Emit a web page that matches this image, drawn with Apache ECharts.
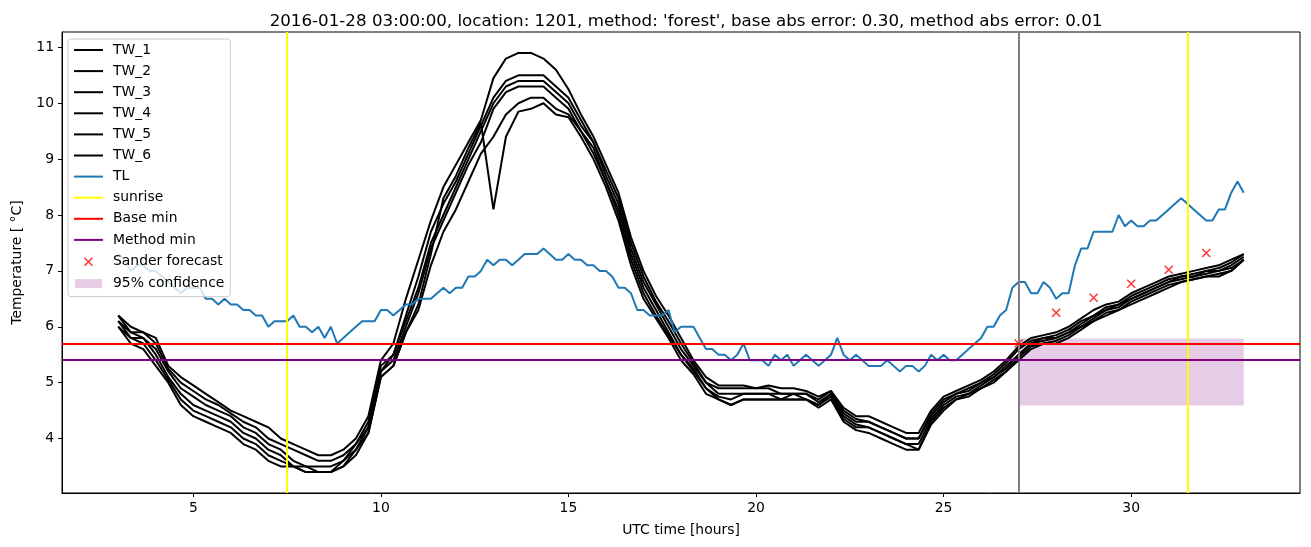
<!DOCTYPE html>
<html>
<head>
<meta charset="utf-8">
<script src="https://cdn.jsdelivr.net/npm/echarts@6/dist/echarts.min.js"></script>
<style>
html,
body,
#main {
  margin: 0;
  padding: 0;
  width: 1311px;
  height: 547px;
  background: #fff;
  overflow: hidden;
}
</style>
</head>
<body>
<div id="main"></div>
<script>
// readings every 20 minutes from 3h to 33h, one list per sensor
const twStart = 3;
const twStep = 1 / 3;
const tw1 = [6.2,6.0,5.9,5.8,5.3,5.1,4.95,4.8,4.65,4.5, 4.4,4.3,4.2,4.0,3.9,3.8,3.7,3.7,3.8,4.0,
  4.4,5.4,5.7,6.5,7.2,7.9,8.5,8.9,9.3,9.7, 10.45,10.8,10.9,10.9,10.8,10.6,10.25,9.8,9.4,8.9,
  8.4,7.6,7.0,6.55,6.2,5.8,5.4,5.1,4.95,4.95, 4.95,4.9,4.95,4.9,4.9,4.85,4.75,4.85,4.55,4.4,
  4.4,4.3,4.2,4.1,4.1,4.5,4.75,4.85,4.95,5.05, 5.2,5.4,5.65,5.8,5.85,5.9,6.0,6.15,6.3,6.4,
  6.45,6.6,6.7,6.8,6.9,6.95,7.0,7.05,7.1,7.2, 7.3];
const tw2 = [6.2,5.9,5.9,5.7,5.25,5.0,4.85,4.7,4.6,4.45, 4.3,4.2,4.0,3.9,3.8,3.7,3.6,3.6,3.7,3.9,
  4.3,5.3,5.5,6.2,6.9,7.7,8.2,8.6,9.1,9.6, 10.1,10.4,10.5,10.5,10.5,10.3,10.1,9.7,9.3,8.8,
  8.3,7.5,6.9,6.45,6.1,5.7,5.35,5.0,4.9,4.9, 4.9,4.9,4.9,4.8,4.8,4.8,4.7,4.85,4.5,4.35,
  4.3,4.2,4.1,4.0,4.0,4.45,4.7,4.8,4.9,5.0, 5.15,5.35,5.6,5.75,5.8,5.85,5.95,6.1,6.2,6.35,
  6.4,6.55,6.65,6.75,6.85,6.9,6.95,7.0,7.05,7.15, 7.3];
const tw3 = [6.1,5.9,5.8,5.6,5.2,4.9,4.75,4.6,4.5,4.4, 4.2,4.1,3.9,3.8,3.6,3.5,3.5,3.5,3.6,3.9,
  4.2,5.2,5.5,6.1,6.7,7.5,8.0,8.5,9.0,9.5, 10.0,10.3,10.4,10.4,10.4,10.2,10.0,9.6,9.3,8.7,
  8.2,7.4,6.8,6.4,6.0,5.6,5.3,5.0,4.8,4.8, 4.8,4.8,4.8,4.8,4.8,4.8,4.65,4.8,4.45,4.3,
  4.3,4.2,4.1,4.0,4.0,4.4,4.65,4.8,4.85,5.0, 5.1,5.3,5.5,5.7,5.8,5.8,5.9,6.05,6.2,6.3,
  6.4,6.5,6.6,6.7,6.8,6.9,6.9,7.0,7.0,7.1, 7.25];
const tw4 = [6.1,5.8,5.8,5.5,5.1,4.8,4.6,4.5,4.4,4.3, 4.1,4.0,3.8,3.7,3.5,3.5,3.4,3.4,3.6,3.8,
  4.2,5.2,5.4,6.0,6.6,7.4,7.9,8.4,8.9,9.3, 9.9,10.2,10.3,10.3,10.3,10.1,9.9,9.5,9.2,8.6,
  8.1,7.3,6.7,6.3,5.9,5.5,5.25,4.9,4.75,4.7, 4.8,4.8,4.8,4.7,4.8,4.7,4.6,4.8,4.4,4.25,
  4.2,4.1,4.0,3.9,3.9,4.35,4.6,4.75,4.8,4.95, 5.1,5.25,5.5,5.7,5.75,5.8,5.9,6.0,6.15,6.3,
  6.35,6.5,6.6,6.7,6.8,6.85,6.9,6.95,7.0,7.05, 7.2];
const tw5 = [6.0,5.8,5.7,5.4,5.05,4.7,4.5,4.4,4.3,4.2, 4.0,3.9,3.7,3.6,3.5,3.4,3.4,3.4,3.5,3.8,
  4.1,5.1,5.3,5.9,6.3,7.1,7.7,8.1,8.6,9.1, 9.4,9.8,10.0,10.1,10.1,9.9,9.8,9.5,9.1,8.6,
  8.0,7.2,6.6,6.2,5.85,5.5,5.2,4.9,4.7,4.6, 4.7,4.7,4.7,4.7,4.7,4.7,4.6,4.75,4.35,4.2,
  4.2,4.1,4.0,3.9,3.8,4.3,4.55,4.7,4.8,4.9, 5.05,5.2,5.45,5.65,5.7,5.75,5.85,6.0,6.1,6.25,
  6.3,6.45,6.55,6.65,6.75,6.8,6.85,6.9,6.95,7.0, 7.2];
const tw6 = [6.0,5.7,5.6,5.3,5.0,4.6,4.4,4.3,4.2,4.1, 3.9,3.8,3.6,3.5,3.5,3.4,3.4,3.4,3.5,3.7,
  4.1,5.1,5.3,5.9,6.4,7.3,8.3,8.7,9.2,9.65, 8.1,9.4,9.85,9.9,10.0,9.8,9.75,9.4,9.0,8.5,
  7.9,7.1,6.5,6.15,5.8,5.4,5.15,4.8,4.7,4.6, 4.7,4.7,4.7,4.7,4.7,4.7,4.55,4.7,4.3,4.15,
  4.1,4.0,3.9,3.8,3.8,4.25,4.5,4.7,4.75,4.9, 5.0,5.2,5.4,5.6,5.7,5.7,5.8,5.95,6.1,6.2,
  6.3,6.4,6.5,6.6,6.7,6.8,6.85,6.9,6.9,7.0, 7.2];

// air temperature every 10 minutes, one row per hour
const tlStart = 3;
const tlStep = 1 / 6;
const tl = [
  7.3, 7.2, 7.0, 7.1, 7.1, 7.0,
  7.0, 6.9, 6.8, 6.7, 6.6, 6.7,
  6.7, 6.7, 6.5, 6.5, 6.4, 6.5,
  6.4, 6.4, 6.3, 6.3, 6.2, 6.2,
  6.0, 6.1, 6.1, 6.1, 6.2, 6.0,
  6.0, 5.9, 6.0, 5.8, 6.0, 5.7,
  5.8, 5.9, 6.0, 6.1, 6.1, 6.1,
  6.3, 6.3, 6.2, 6.3, 6.4, 6.4,
  6.5, 6.5, 6.5, 6.6, 6.7, 6.6,
  6.7, 6.7, 6.9, 6.9, 7.0, 7.2,
  7.1, 7.2, 7.2, 7.1, 7.2, 7.3,
  7.3, 7.3, 7.4, 7.3, 7.2, 7.2,
  7.3, 7.2, 7.2, 7.1, 7.1, 7.0,
  7.0, 6.9, 6.7, 6.7, 6.6, 6.3,
  6.3, 6.2, 6.2, 6.2, 6.3, 5.9,
  6.0, 6.0, 6.0, 5.8, 5.6, 5.6,
  5.5, 5.5, 5.4, 5.5, 5.7, 5.4,
  5.4, 5.4, 5.3, 5.5, 5.4, 5.5,
  5.3, 5.4, 5.5, 5.4, 5.3, 5.4,
  5.5, 5.8, 5.5, 5.4, 5.5, 5.4,
  5.3, 5.3, 5.3, 5.4, 5.3, 5.2,
  5.3, 5.3, 5.2, 5.3, 5.5, 5.4,
  5.5, 5.4, 5.4, 5.5, 5.6, 5.7,
  5.8, 6.0, 6.0, 6.2, 6.3, 6.7,
  6.8, 6.8, 6.6, 6.6, 6.8, 6.7,
  6.5, 6.6, 6.6, 7.1, 7.4, 7.4,
  7.7, 7.7, 7.7, 7.7, 8.0, 7.8,
  7.9, 7.8, 7.8, 7.9, 7.9, 8.0,
  8.1, 8.2, 8.3, 8.2, 8.1, 8.0,
  7.9, 7.9, 8.1, 8.1, 8.4, 8.6,
  8.4
];

const sunriseHours = [7.5, 31.5];
const forecastStart = 27;
const baseMin = 5.70;
const methodMin = 5.41;
const sanderHours = [27, 28, 29, 30, 31, 32];
const sanderValues = [5.70, 6.25, 6.52, 6.77, 7.02, 7.32];
const confHours = [27, 33];
const confRange = [4.59, 5.79];

const xTicks = [5, 10, 15, 20, 25, 30];
const yTicks = [4, 5, 6, 7, 8, 9, 10, 11];
const xRange = [1.5, 34.5];
const yRange = [3.025, 11.275];

const FONT = "DejaVu Sans";
const LW = 2;

function pairs(start, step, vals) {
  return vals.map((v, i) => [start + i * step, v]);
}

const twNames = ["TW_1", "TW_2", "TW_3", "TW_4", "TW_5", "TW_6"];
const twData = [tw1, tw2, tw3, tw4, tw5, tw6];

function refLine(name, color, data, width) {
  return {
    name: name,
    type: "line",
    data: [],
    symbol: "none",
    color: color,
    lineStyle: { color: color, width: width },
    silent: true,
    markLine: {
      silent: true,
      symbol: ["none", "none"],
      label: { show: false },
      emphasis: { disabled: true },
      lineStyle: { color: color, width: width, type: "solid" },
      data: data,
    },
  };
}

// legend entry drawn by the line series itself, with its marker hidden
function lineEntry(name) {
  return { name: name, itemStyle: { opacity: 0 } };
}

let _series = [];
_series.push(refLine("forecast start", "#808080", [{ xAxis: forecastStart }], LW));
twData.forEach((vals, k) => {
  _series.push({
    name: twNames[k],
    type: "line",
    data: pairs(twStart, twStep, vals),
    symbol: "none",
    color: "#000",
    lineStyle: { color: "#000", width: LW },
    silent: true,
  });
});
_series.push({
  name: "TL",
  type: "line",
  data: pairs(tlStart, tlStep, tl),
  symbol: "none",
  color: "#1f77b4",
  lineStyle: { color: "#1f77b4", width: LW },
  silent: true,
});
_series.push(refLine("sunrise", "#ffff00", sunriseHours.map((h) => ({ xAxis: h })), LW));
_series.push(refLine("Base min", "#ff0000", [{ yAxis: baseMin }], LW));
_series.push(refLine("Method min", "#800080", [{ yAxis: methodMin }], LW));
_series.push({
  name: "Sander forecast",
  type: "scatter",
  data: sanderHours.map((h, i) => [h, sanderValues[i]]),
  symbol: "path://M0,0L8,8M8,0L0,8",
  symbolSize: 8,
  itemStyle: { color: "#ff0000", borderColor: "#ff0000", borderWidth: 1.5 },
  silent: true,
});
_series.push({
  name: "95% confidence",
  type: "line",
  data: [],
  symbol: "none",
  color: "rgba(128,0,128,0.2)",
  silent: true,
  markArea: {
    silent: true,
    itemStyle: { color: "rgba(128,0,128,0.2)" },
    data: [[{ xAxis: confHours[0], yAxis: confRange[0] }, { xAxis: confHours[1], yAxis: confRange[1] }]],
  },
});

const myChart = echarts.init(document.getElementById("main"));
const option = {
  animation: false,
  backgroundColor: "#fff",
  title: {
    text: "2016-01-28 03:00:00, location: 1201, method: 'forest', base abs error: 0.30, method abs error: 0.01",
    left: 681,
    top: 8,
    textAlign: "center",
    textStyle: { fontFamily: FONT, fontSize: 16.7, fontWeight: "normal", color: "#000" },
  },
  legend: {
    orient: "vertical",
    left: 68,
    top: 39,
    padding: [4, 6, 6, 5],
    itemWidth: 29,
    itemHeight: 14,
    itemGap: 7.1,
    backgroundColor: "rgba(255,255,255,0.8)",
    borderColor: "#cccccc",
    borderWidth: 1,
    borderRadius: 3,
    selectedMode: false,
    textStyle: { fontFamily: FONT, fontSize: 13.9, color: "#000", padding: [0, 0, 0, 5] },
    data: [
      lineEntry("TW_1"),
      lineEntry("TW_2"),
      lineEntry("TW_3"),
      lineEntry("TW_4"),
      lineEntry("TW_5"),
      lineEntry("TW_6"),
      lineEntry("TL"),
      lineEntry("sunrise"),
      lineEntry("Base min"),
      lineEntry("Method min"),
      {
        name: "Sander forecast",
        icon: "path://M-10.5,-3L-10.5,-3M0,0L8,8M8,0L0,8M18.5,11L18.5,11",
        itemStyle: { color: "#ff0000", borderColor: "#ff0000", borderWidth: 1.5 },
      },
      {
        name: "95% confidence",
        icon: "path://M0,0L0,0M1,2.5H28V11.5H1ZM29,14L29,14",
        itemStyle: { color: "rgba(128,0,128,0.2)", borderWidth: 0 },
      },
    ],
  },
  grid: {
    left: 62,
    right: 11,
    top: 32,
    bottom: 54,
    show: true,
    borderColor: "#000",
    borderWidth: 1,
    backgroundColor: "transparent",
  },
  xAxis: {
    type: "value",
    min: xRange[0],
    max: xRange[1],
    name: "UTC time [hours]",
    nameLocation: "middle",
    nameGap: 30,
    nameTextStyle: { fontFamily: FONT, fontSize: 13.9, color: "#000" },
    axisLine: { show: true, onZero: false, lineStyle: { color: "#000", width: 1 } },
    axisTick: { show: true, length: 4, customValues: xTicks, lineStyle: { color: "#000" } },
    axisLabel: { customValues: xTicks, margin: 8, fontFamily: FONT, fontSize: 13.9, color: "#000" },
    splitLine: { show: false },
  },
  yAxis: {
    type: "value",
    min: yRange[0],
    max: yRange[1],
    name: "Temperature [ °C]",
    nameLocation: "middle",
    nameGap: 38,
    nameTextStyle: { fontFamily: FONT, fontSize: 13.9, color: "#000" },
    axisLine: { show: true, onZero: false, lineStyle: { color: "#000", width: 1 } },
    axisTick: { show: true, length: 4, customValues: yTicks, lineStyle: { color: "#000" } },
    axisLabel: { customValues: yTicks, margin: 8, fontFamily: FONT, fontSize: 13.9, color: "#000" },
    splitLine: { show: false },
  },
  series: _series,
};
myChart.setOption(option);
</script>
</body>
</html>
